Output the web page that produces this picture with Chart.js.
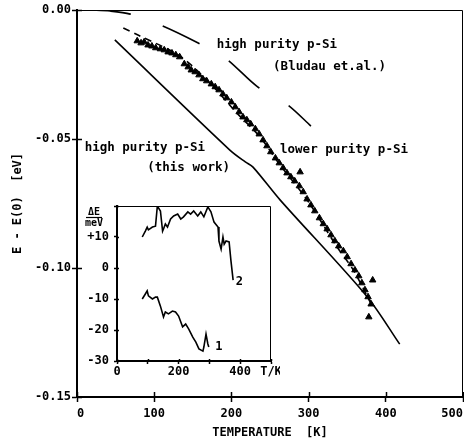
<!DOCTYPE html>
<html>
<head>
<meta charset="utf-8">
<script src="https://cdn.jsdelivr.net/npm/chart.js@4/dist/chart.umd.min.js"></script>
<style>
  html, body { margin: 0; padding: 0; background: #fff; }
  #wrap { position: relative; width: 464px; height: 443px; }
  #main { position: absolute; left: 0; top: 0; }
  #inset { position: absolute; left: 80px; top: 196px; }
</style>
</head>
<body>
<div id="wrap">
  <canvas id="main" width="464" height="443"></canvas>
  <canvas id="inset" width="200" height="185"></canvas>
</div>
<script>
// ---- main plot: E - E(0) [eV] vs temperature [K] ----
const xTicks = [0, 100, 200, 300, 400, 500];
const xTickLabels = ['0', '100', '200', '300', '400', '500'];
const yTicks = [-0.15, -0.10, -0.05, 0];
const yTickLabels = ['-0.15', '-0.10', '-0.05', '0.00'];

// high purity p-Si, Bludau et.al. (long dashes)
const bludauT = [17, 43, 69, 111, 157, 192, 234, 273, 303];
const bludauE = [0, -0.0004, -0.0016, -0.0062, -0.0128, -0.0186, -0.0298, -0.0368, -0.0450];

// high purity p-Si, this work (solid)
const thisWorkT = [49, 198, 218, 228, 263, 376, 418];
const thisWorkE = [-0.0116, -0.0543, -0.0589, -0.0609, -0.0736, -0.1112, -0.1295];

// lower purity p-Si, fit (short dashes)
const lowerFitT = [60, 79, 133, 172, 207, 237, 263, 298, 337, 358, 382];
const lowerFitE = [-0.0070, -0.0097, -0.0178, -0.0283, -0.0399, -0.0492, -0.0601, -0.0736, -0.0919, -0.1008, -0.1145];

// lower purity p-Si, measured (triangles)
const triT = [78, 83, 87, 92, 97, 102, 108, 113, 118, 123, 128, 133, 139, 144, 148, 153, 158, 163,
  168, 174, 179, 184, 189, 194, 200, 205, 210, 215, 220, 225, 231, 236, 241, 246, 251, 257, 262,
  267, 272, 277, 282, 288, 289, 293, 298, 303, 308, 314, 319, 324, 329, 334, 339, 345, 350, 355,
  360, 365, 369, 373, 377, 381, 383, 378];
const triE = [-0.0120, -0.0128, -0.0124, -0.0136, -0.0140, -0.0147, -0.0151, -0.0155, -0.0163,
  -0.0167, -0.0174, -0.0182, -0.0209, -0.0221, -0.0233, -0.0240, -0.0252, -0.0267, -0.0275,
  -0.0287, -0.0298, -0.0310, -0.0326, -0.0341, -0.0357, -0.0376, -0.0395, -0.0415, -0.0426,
  -0.0442, -0.0461, -0.0481, -0.0504, -0.0527, -0.0550, -0.0574, -0.0593, -0.0612, -0.0632,
  -0.0647, -0.0663, -0.0682, -0.0628, -0.0705, -0.0733, -0.0756, -0.0779, -0.0806, -0.0829,
  -0.0849, -0.0872, -0.0895, -0.0915, -0.0934, -0.0957, -0.0984, -0.1008, -0.1031, -0.1058,
  -0.1085, -0.1112, -0.1140, -0.1047, -0.1190];

const annoText = ['high purity p-Si', '(Bludau et.al.)', 'lower purity p-Si', 'high purity p-Si', '(this work)'];
const annoT = [181, 254, 263, 10, 91];
const annoE = [-0.0136, -0.0221, -0.0543, -0.0535, -0.0612];

// ---- inset: deviation ΔE [meV] vs T [K] ----
const insetXTicks = [0, 100, 200, 300, 400, 500];
const insetXTickLabels = ['0', '', '200', '', '400', 'T/K'];
const insetYTicks = [-30, -20, -10, 0, 10, 20];
const insetYTickLabels = ['-30', '-20', '-10', '0', '+10', ''];

const curve2T = [82, 92, 98, 102, 115, 125, 131, 141, 148, 151, 157, 164, 174, 184, 197, 207, 216,
  230, 239, 249, 262, 272, 282, 295, 305, 315, 328, 331, 338, 344, 348, 354, 364, 370, 377];
const curve2dE = [10.0, 11.9, 13.2, 12.3, 13.2, 13.5, 20.0, 18.4, 11.9, 12.6, 14.2, 13.2, 15.8,
  16.8, 17.4, 15.8, 16.5, 18.1, 17.4, 18.4, 16.8, 18.1, 16.5, 19.7, 18.1, 14.8, 13.2, 8.7, 6.1,
  10.0, 7.7, 8.7, 8.4, 2.3, -3.9];

const curve1T = [82, 92, 98, 102, 115, 125, 131, 141, 151, 157, 167, 180, 190, 200, 213, 223, 233,
  246, 256, 266, 279, 282, 289, 295, 298];
const curve1dE = [-10.0, -8.4, -7.4, -9.0, -10.0, -9.4, -9.4, -12.3, -15.8, -14.2, -14.8, -13.9,
  -14.2, -15.5, -19.0, -18.1, -19.7, -22.3, -23.9, -26.1, -26.8, -25.5, -21.3, -24.5, -25.5];

const insetLabelText = ['2', '1'];
const insetLabelT = [397, 331];
const insetLabelDE = [-4.5, -25.5];

const INK = '#000';
const FAMILY = "'DejaVu Sans Mono', monospace";

function pts(xs, ys) { return xs.map((x, i) => ({ x, y: ys[i] })); }

function lineSet(xs, ys, dash) {
  return {
    data: pts(xs, ys), showLine: true, borderColor: INK, borderWidth: 1.6,
    borderDash: dash || [], pointRadius: 0, tension: 0.3, fill: false,
  };
}

// frame top/right + inward halves of the cross-shaped ticks
function frameAndTicks(inLen) {
  return {
    id: 'frameAndTicks',
    afterDraw(chart) {
      const { ctx, chartArea: a, scales } = chart;
      ctx.save();
      ctx.strokeStyle = INK;
      ctx.lineWidth = 1;
      ctx.beginPath();
      ctx.moveTo(a.left, a.top + 0.5);
      ctx.lineTo(a.right - 0.5, a.top + 0.5);
      ctx.lineTo(a.right - 0.5, a.bottom);
      ctx.stroke();
      ctx.lineWidth = 1.5;
      ctx.beginPath();
      scales.x.ticks.forEach(t => {
        const px = Math.round(scales.x.getPixelForValue(t.value)) + 0.5;
        ctx.moveTo(px, a.bottom); ctx.lineTo(px, a.bottom - inLen);
      });
      scales.y.ticks.forEach(t => {
        const py = Math.round(scales.y.getPixelForValue(t.value)) + 0.5;
        ctx.moveTo(a.left, py); ctx.lineTo(a.left + inLen, py);
      });
      ctx.stroke();
      ctx.restore();
    }
  };
}

function textLabels(texts, xs, ys, size, align) {
  return {
    id: 'textLabels',
    afterDraw(chart) {
      const { ctx, scales } = chart;
      ctx.save();
      ctx.fillStyle = INK;
      ctx.font = `bold ${size}px ${FAMILY}`;
      ctx.textAlign = align;
      ctx.textBaseline = 'middle';
      texts.forEach((t, i) => {
        ctx.fillText(t, scales.x.getPixelForValue(xs[i]), scales.y.getPixelForValue(ys[i]));
      });
      ctx.restore();
    }
  };
}

function axisCommon(tickLen, fontSize) {
  return {
    border: { display: true, color: INK, width: 2 },
    grid: { drawOnChartArea: false, drawTicks: true, tickLength: tickLen, tickWidth: 1.5, tickColor: INK },
    ticks: { color: INK, font: { family: FAMILY, weight: 'bold', size: fontSize } },
  };
}

// ---- main chart ----
const mx = axisCommon(5, 12);
const my = axisCommon(5, 12);

new Chart(document.getElementById('main'), {
  type: 'scatter',
  data: {
    datasets: [
      lineSet(bludauT, bludauE, [41, 34]),
      lineSet(thisWorkT, thisWorkE),
      lineSet(lowerFitT, lowerFitE, [7, 5]),
      {
        data: pts(triT, triE), pointStyle: 'triangle', pointRadius: 3.7,
        backgroundColor: INK, borderColor: INK, borderWidth: 1, showLine: false,
      },
    ],
  },
  options: {
    responsive: false,
    animation: false,
    events: [],
    layout: { autoPadding: false, padding: { top: 10, right: 1, left: 0, bottom: 0 } },
    plugins: { legend: { display: false }, tooltip: { enabled: false } },
    scales: {
      x: {
        type: 'linear', min: 0, max: 500,
        border: mx.border, grid: mx.grid,
        afterBuildTicks: s => { s.ticks = xTicks.map(v => ({ value: v })); },
        afterFit: s => { s.height = 46; s.paddingLeft = 0; s.paddingRight = 0; },
        ticks: Object.assign({}, mx.ticks, {
          padding: 5, maxRotation: 0, autoSkip: false, align: 'inner',
          callback: (v, i) => xTickLabels[i],
        }),
        title: {
          display: true, text: 'TEMPERATURE  [K]', color: INK,
          font: { family: FAMILY, weight: 'bold', size: 12 }, padding: { top: 0, bottom: 3 },
        },
      },
      y: {
        type: 'linear', min: -0.15, max: 0,
        border: my.border, grid: my.grid,
        afterBuildTicks: s => { s.ticks = yTicks.map(v => ({ value: v })); },
        afterFit: s => { s.width = 77; s.paddingTop = 0; s.paddingBottom = 0; },
        ticks: Object.assign({}, my.ticks, {
          padding: 1, autoSkip: false,
          callback: (v, i) => yTickLabels[i],
        }),
        title: {
          display: true, text: 'E - E(0)  [eV]', color: INK,
          font: { family: FAMILY, weight: 'bold', size: 12 }, padding: { top: 11, bottom: 0 },
        },
      },
    },
  },
  plugins: [frameAndTicks(5), textLabels(annoText, annoT, annoE, 12.5, 'left')],
});

// ---- inset chart ----
const ix = axisCommon(3, 12);
const iy = axisCommon(3, 12);

const deltaLabel = {
  id: 'deltaLabel',
  afterDraw(chart) {
    const { ctx, chartArea: a } = chart;
    const cx = a.left - 23;
    ctx.save();
    ctx.fillStyle = INK;
    ctx.strokeStyle = INK;
    ctx.font = `bold 10px ${FAMILY}`;
    ctx.textAlign = 'center';
    ctx.textBaseline = 'middle';
    ctx.fillText('ΔE', cx, a.top + 6);
    ctx.lineWidth = 1.2;
    ctx.beginPath();
    ctx.moveTo(cx - 8, a.top + 11.5);
    ctx.lineTo(cx + 8, a.top + 11.5);
    ctx.stroke();
    ctx.fillText('meV', cx, a.top + 17);
    ctx.restore();
  }
};

new Chart(document.getElementById('inset'), {
  type: 'scatter',
  data: {
    datasets: [
      Object.assign(lineSet(curve2T, curve2dE), { tension: 0 }),
      Object.assign(lineSet(curve1T, curve1dE), { tension: 0 }),
    ],
  },
  options: {
    responsive: false,
    animation: false,
    events: [],
    layout: { autoPadding: false, padding: { top: 10, right: 9, left: 0, bottom: 0 } },
    plugins: { legend: { display: false }, tooltip: { enabled: false } },
    scales: {
      x: {
        type: 'linear', min: 0, max: 500,
        border: ix.border, grid: ix.grid,
        afterBuildTicks: s => { s.ticks = insetXTicks.map(v => ({ value: v })); },
        afterFit: s => { s.height = 20; s.paddingLeft = 0; s.paddingRight = 0; },
        ticks: Object.assign({}, ix.ticks, {
          padding: 1, maxRotation: 0, autoSkip: false,
          callback: (v, i) => insetXTickLabels[i],
        }),
      },
      y: {
        type: 'linear', min: -30, max: 20,
        border: iy.border, grid: iy.grid,
        afterBuildTicks: s => { s.ticks = insetYTicks.map(v => ({ value: v })); },
        afterFit: s => { s.width = 37; s.paddingTop = 0; s.paddingBottom = 0; },
        ticks: Object.assign({}, iy.ticks, {
          padding: 5, autoSkip: false,
          callback: (v, i) => insetYTickLabels[i],
        }),
      },
    },
  },
  plugins: [frameAndTicks(2), textLabels(insetLabelText, insetLabelT, insetLabelDE, 12, 'center'), deltaLabel],
});
</script>
</body>
</html>
